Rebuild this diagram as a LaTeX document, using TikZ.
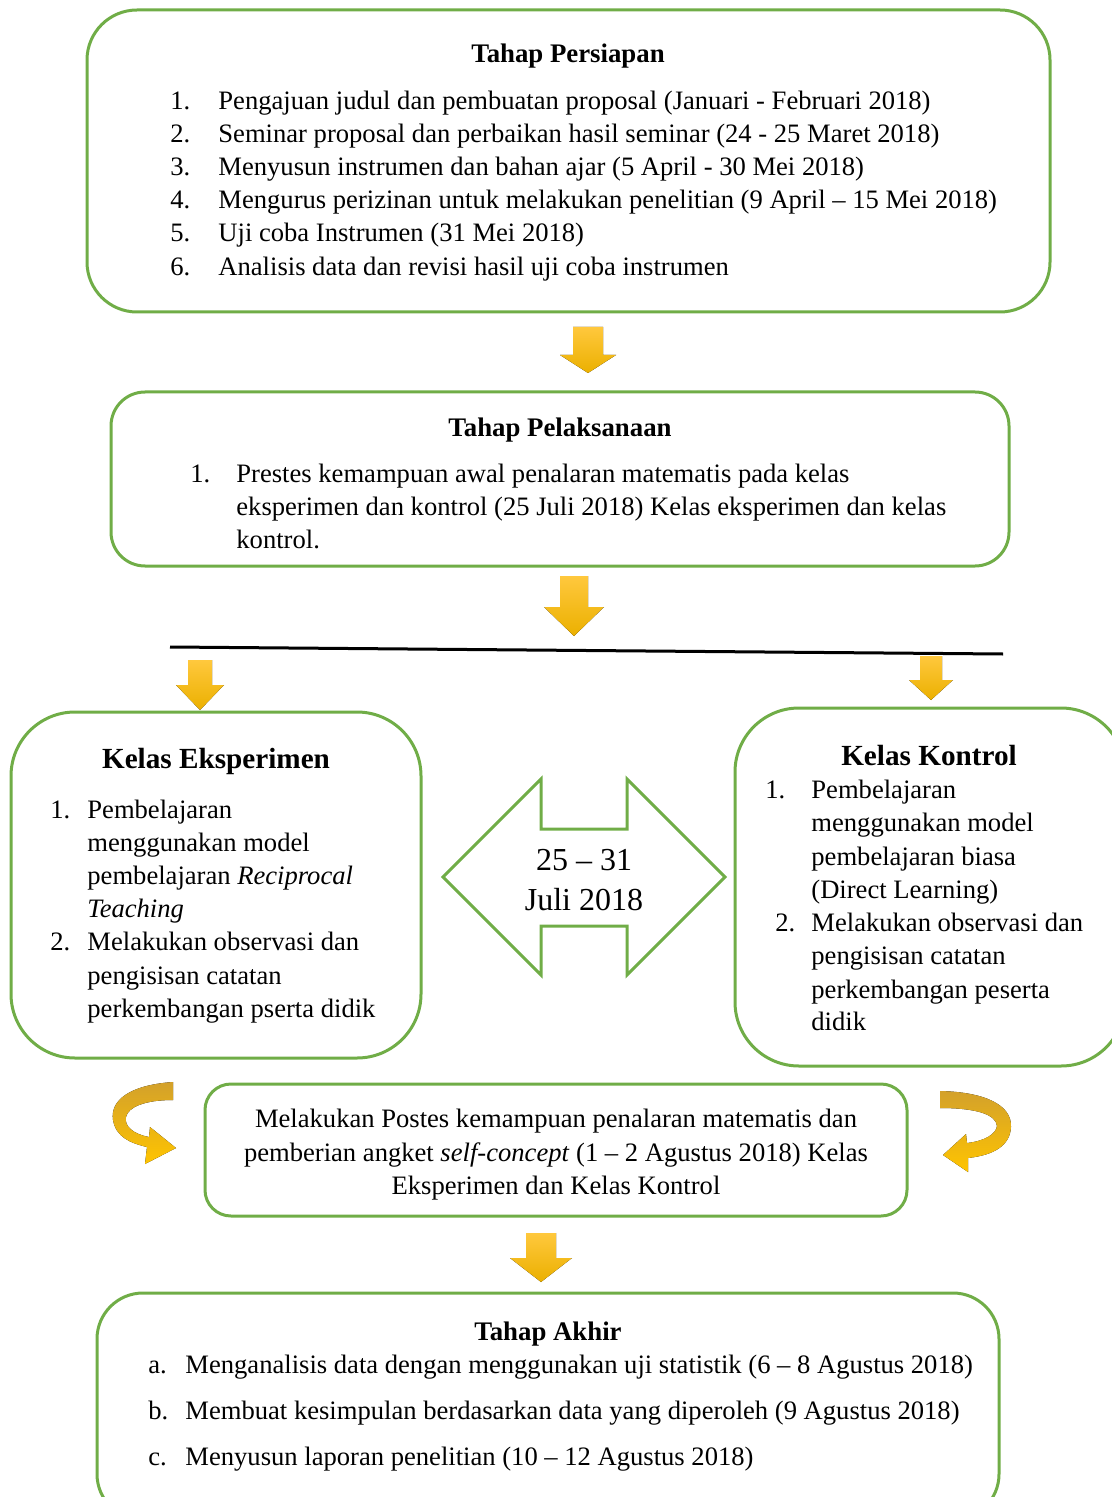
\documentclass[tikz,border=0pt]{standalone}
\usepackage{fontspec}
\setmainfont{Liberation Serif}
\usetikzlibrary{fit}
\definecolor{boxgreen}{HTML}{70AD47}
\definecolor{arrtop}{HTML}{FFC83D}
\definecolor{arrbot}{HTML}{EBB000}
\definecolor{curvdark}{HTML}{D3A12B}
\definecolor{curvlight}{HTML}{FFC400}
\newcommand\blockdown[6]{% cx, top, headstart, tip, shafthalf, headhalf
  \fill[top color=arrtop,bottom color=arrbot]
    (#1-#5,#2) -- (#1+#5,#2) -- (#1+#5,#3) -- (#1+#6,#3) -- (#1,#4)
    -- (#1-#6,#3) -- (#1-#5,#3) -- cycle;}
\begin{document}
\begin{tikzpicture}[x=0.5pt,y=-0.5pt,
  box/.style={draw=boxgreen,line width=1.5pt,inner sep=0pt},
  txt/.style={anchor=base west,inner sep=0pt,font=\fontsize{13.3}{15}\selectfont},
  ctxt/.style={anchor=base,inner sep=0pt,font=\fontsize{13.3}{15}\selectfont},
  head/.style={anchor=base,inner sep=0pt,font=\fontsize{13.4}{15}\selectfont\bfseries},
  bighead/.style={anchor=base,inner sep=0pt,font=\fontsize{14.6}{17}\selectfont\bfseries}]
\useasboundingbox (0,0) rectangle (1112,1497);

% ---------- Tahap Persiapan ----------
\coordinate (pa) at (87,10); \coordinate (pb) at (1050,312);
\node[box,rounded corners=25pt,fit=(pa)(pb)] (prep) {};
\node[head] (prepT) at (568,63) {Tahap Persiapan};
\node[txt] (p1n) at (170,110) {1.}; \node[txt] (p1) at (218,110) {Pengajuan judul dan pembuatan proposal (Januari - Februari 2018)};
\node[txt] (p2n) at (170,143) {2.}; \node[txt] (p2) at (218,143) {Seminar proposal dan perbaikan hasil seminar (24 - 25 Maret 2018)};
\node[txt] (p3n) at (170,176) {3.}; \node[txt] (p3) at (218,176) {Menyusun instrumen dan bahan ajar (5 April - 30 Mei 2018)};
\node[txt] (p4n) at (170,209) {4.}; \node[txt] (p4) at (218,209) {Mengurus perizinan untuk melakukan penelitian (9 April -- 15 Mei 2018)};
\node[txt] (p5n) at (170,242) {5.}; \node[txt] (p5) at (218,242) {Uji coba Instrumen (31 Mei 2018)};
\node[txt] (p6n) at (170,276) {6.}; \node[txt] (p6) at (218,276) {Analisis data dan revisi hasil uji coba instrumen};

\blockdown{588}{327}{355}{373}{15}{28}

% ---------- Tahap Pelaksanaan ----------
\coordinate (la) at (111,392); \coordinate (lb) at (1009,566);
\node[box,rounded corners=17pt,fit=(la)(lb)] (pel) {};
\node[head] (pelT) at (560,437) {Tahap Pelaksanaan};
\node[txt] (l1n) at (190,482) {1.};
\node[txt] (l1) at (236,482) {Prestes kemampuan awal penalaran matematis pada kelas};
\node[txt] (l2) at (236,515) {eksperimen dan kontrol (25 Juli 2018) Kelas eksperimen dan kelas};
\node[txt] (l3) at (236,548) {kontrol.};

\blockdown{574}{576}{607}{636}{14}{30}

% ---------- split line ----------
\coordinate (sa) at (170,647); \coordinate (sb) at (1003,654);
\draw[line width=1.5pt] (sa) -- (sb);
\blockdown{200}{660}{685}{710}{12}{24}
\blockdown{931}{656}{680}{700}{11}{22}

% ---------- Kelas Eksperimen ----------
\coordinate (ea) at (11,712); \coordinate (eb) at (421,1058);
\node[box,rounded corners=32pt,fit=(ea)(eb)] (eks) {};
\node[bighead] (eksT) at (216,768) {Kelas Eksperimen};
\node[txt] (e1n) at (50,818) {1.};
\node[txt] (e1) at (87,818) {Pembelajaran};
\node[txt] (e2) at (87,851) {menggunakan model};
\node[txt] (e3) at (87,884) {pembelajaran \textit{Reciprocal}};
\node[txt] (e4) at (87,917) {\textit{Teaching}};
\node[txt] (e5n) at (50,950) {2.};
\node[txt] (e5) at (87,950) {Melakukan observasi dan};
\node[txt] (e6) at (87,984) {pengisisan catatan};
\node[txt] (e7) at (87,1017) {perkembangan pserta didik};

% ---------- double arrow ----------
\draw[draw=boxgreen,line width=1.5pt,line join=miter]
  (443,877) -- (541,779) -- (541,829) -- (627,829) -- (627,779) -- (725,877)
  -- (627,975) -- (627,926) -- (541,926) -- (541,975) -- cycle;
\node[anchor=base,inner sep=0pt,font=\fontsize{16}{18}\selectfont] (d1) at (584,870) {25 -- 31};
\node[anchor=base,inner sep=0pt,font=\fontsize{16}{18}\selectfont] (d2) at (584,910) {Juli 2018};

% ---------- Kelas Kontrol ----------
\coordinate (ka) at (735,708); \coordinate (kb) at (1125,1066);
\node[box,rounded corners=32pt,fit=(ka)(kb)] (kon) {};
\node[bighead] (konT) at (929,765) {Kelas Kontrol};
\node[txt] (k1n) at (765,798) {1.};
\node[txt] (k1) at (811,798) {Pembelajaran};
\node[txt] (k2) at (811,831) {menggunakan model};
\node[txt] (k3) at (811,865) {pembelajaran biasa};
\node[txt] (k4) at (811,898) {(Direct Learning)};
\node[txt] (k5n) at (775,931) {2.};
\node[txt] (k5) at (811,931) {Melakukan observasi dan};
\node[txt] (k6) at (811,964) {pengisisan catatan};
\node[txt] (k7) at (811,998) {perkembangan peserta};
\node[txt] (k8) at (811,1030) {didik};

% ---------- curved arrows ----------
\fill[top color=curvdark,bottom color=curvlight]
  (173,1082) .. controls (130,1085) and (110,1100) .. (113,1120)
  .. controls (116,1137) and (130,1143) .. (147,1147)
  -- (145,1164) -- (176,1148) -- (150,1127) -- (149,1137)
  .. controls (133,1134) and (124,1126) .. (126,1117)
  .. controls (128,1107) and (145,1100) .. (173,1100) -- cycle;
\fill[top color=curvdark,bottom color=curvlight]
  (940,1091) .. controls (985,1092) and (1012,1105) .. (1011,1127)
  .. controls (1010,1145) and (995,1155) .. (968,1158)
  -- (968,1172) -- (943,1155) -- (966,1134) -- (967,1143)
  .. controls (985,1141) and (996,1134) .. (997,1126)
  .. controls (996,1114) and (975,1108) .. (940,1108) -- cycle;

% ---------- Postes ----------
\coordinate (ma) at (205,1084); \coordinate (mb) at (907,1216);
\node[box,rounded corners=13pt,fit=(ma)(mb)] (post) {};
\node[ctxt] (m1) at (556,1127) {Melakukan Postes kemampuan penalaran matematis dan};
\node[ctxt] (m2) at (556,1161) {pemberian angket \textit{self-concept} (1 -- 2 Agustus 2018) Kelas};
\node[ctxt] (m3) at (556,1194) {Eksperimen dan Kelas Kontrol};

\blockdown{541}{1233}{1258}{1282}{15}{31}

% ---------- Tahap Akhir ----------
\coordinate (aa) at (97,1293); \coordinate (ab) at (999,1520);
\node[box,rounded corners=23pt,fit=(aa)(ab)] (akhir) {};
\node[head] (akhT) at (548,1340) {Tahap Akhir};
\node[txt] (a1n) at (148,1373) {a.}; \node[txt] (a1) at (185,1373) {Menganalisis data dengan menggunakan uji statistik (6 -- 8 Agustus 2018)};
\node[txt] (a2n) at (148,1419) {b.}; \node[txt] (a2) at (185,1419) {Membuat kesimpulan berdasarkan data yang diperoleh (9 Agustus 2018)};
\node[txt] (a3n) at (148,1465) {c.}; \node[txt] (a3) at (185,1465) {Menyusun laporan penelitian (10 -- 12 Agustus 2018)};
\end{tikzpicture}
\end{document}
